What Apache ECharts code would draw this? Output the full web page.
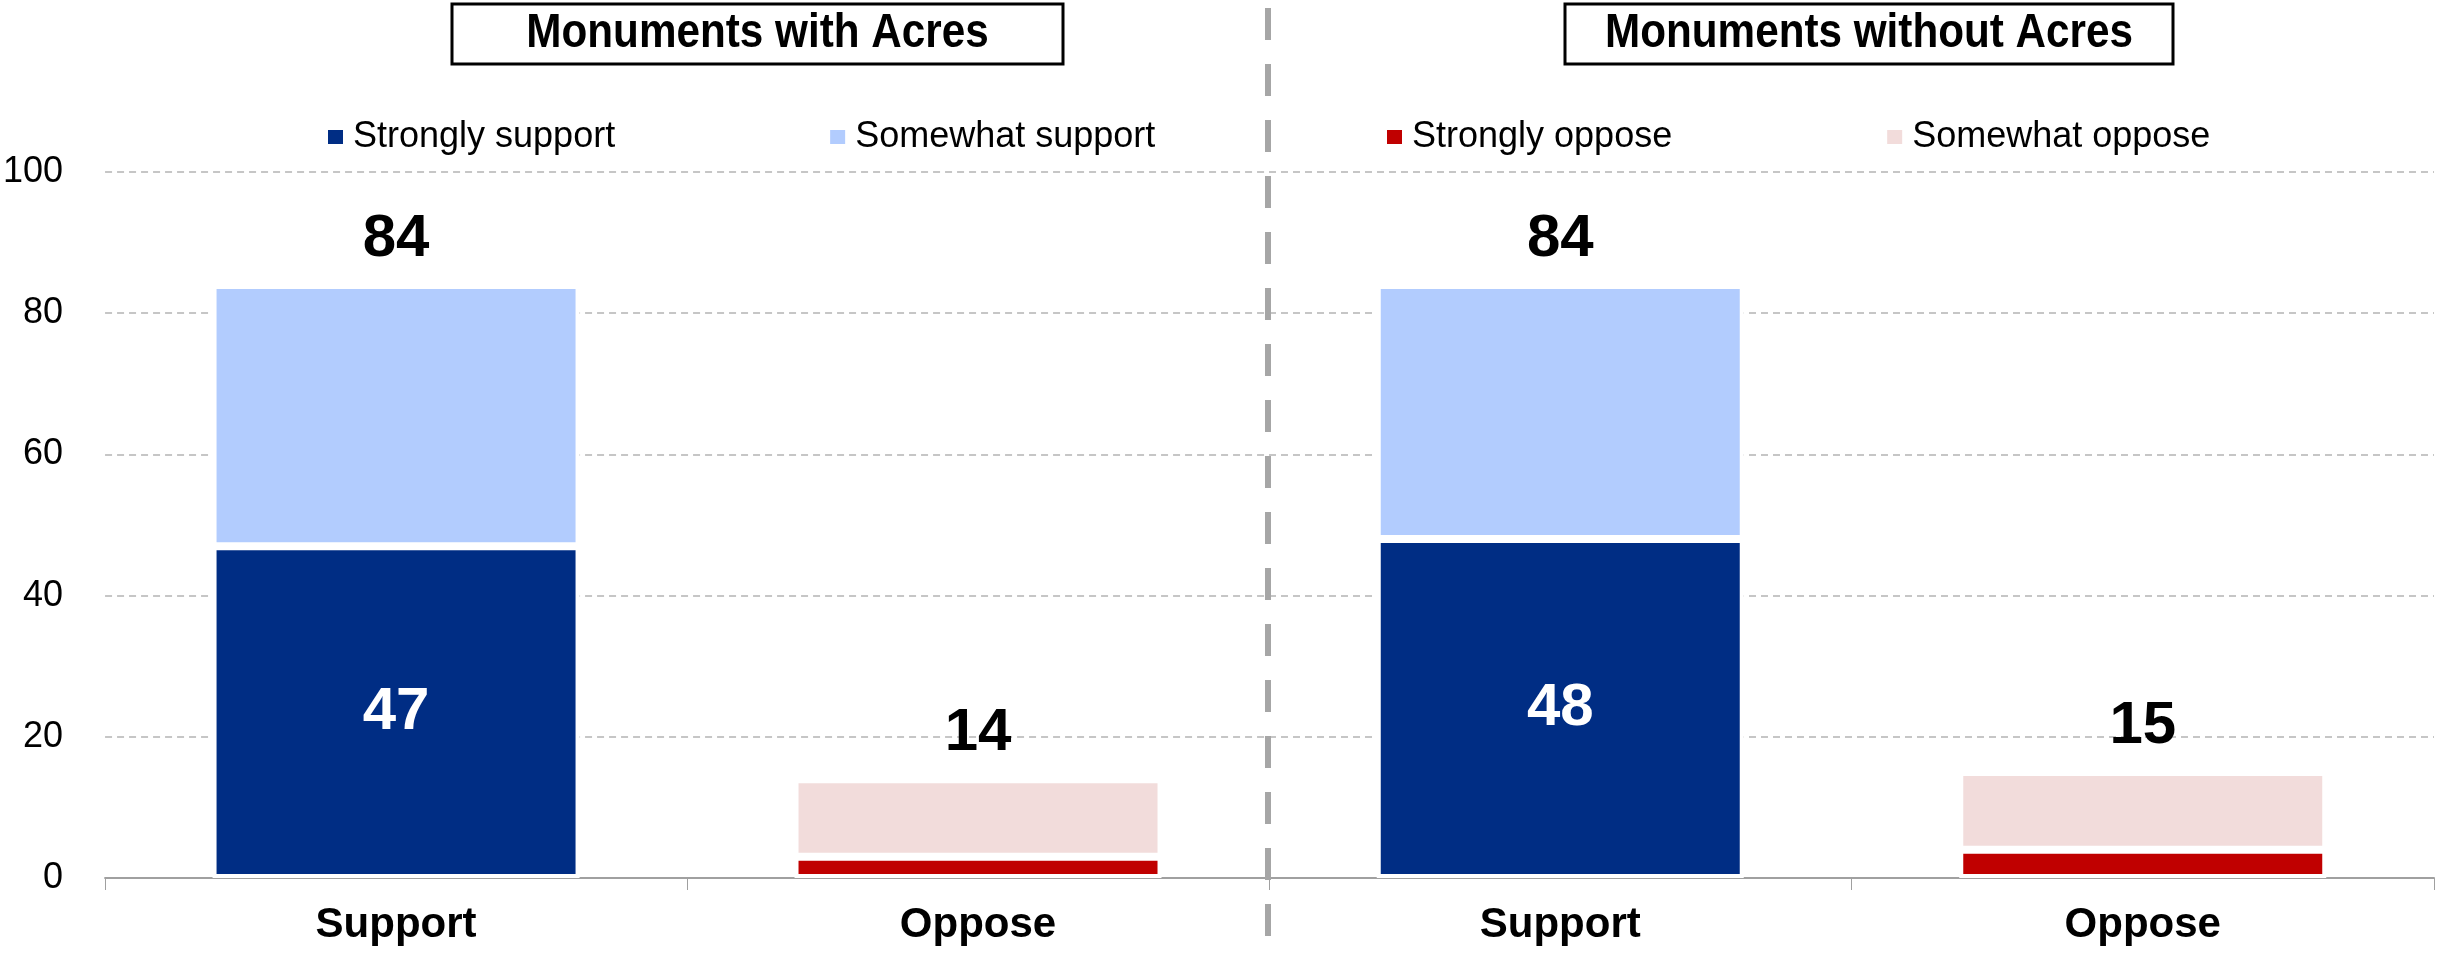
<!DOCTYPE html>
<html>
<head>
<meta charset="utf-8">
<script src="https://cdn.jsdelivr.net/npm/echarts@6/dist/echarts.min.js"></script>
<style>
  html, body { margin: 0; padding: 0; background: #fff; }
  #chart { width: 2443px; height: 954px; }
</style>
</head>
<body>
<div id="chart"></div>
<script>
// data
var categories = ['Support', 'Oppose']
var panels = ['Monuments with Acres', 'Monuments without Acres']
var stronglySupport = [47, 48]
var somewhatSupport = [37, 36]
var stronglyOppose = [3, 4]
var somewhatOppose = [11, 11]
var yTicks = [0, 20, 40, 60, 80, 100]

var colors = {
  strongSup: '#002D84',
  someSup: '#B2CCFE',
  strongOpp: '#C00000',
  someOpp: '#F2DCDB'
}
var font = 'Liberation Sans, Arial, sans-serif'

var gridLeft = [104, 1269]
var gridWidth = 1165

var grids = []
var xAxes = []
var yAxes = []
var series = []

panels.forEach(function(p, i) {
  grids.push({ left: gridLeft[i], width: gridWidth, top: 172, bottom: 76 })
  xAxes.push({
    gridIndex: i,
    type: 'category',
    data: categories,
    axisLine: { show: true, lineStyle: { color: '#A0A0A0', width: 2 }},
    axisTick: { show: true, length: 12, lineStyle: { color: '#A0A0A0', width: 1 }},
    axisLabel: { fontSize: 42, fontWeight: 'bold', color: '#000', fontFamily: font, margin: 26 }
  })
  yAxes.push({
    gridIndex: i,
    type: 'value',
    min: yTicks[0],
    max: yTicks[yTicks.length - 1],
    interval: 20,
    axisLine: { show: false },
    axisTick: { show: false },
    axisLabel: { show: i === 0, fontSize: 36, color: '#000', fontFamily: font, margin: 42 },
    splitLine: { lineStyle: { type: [7, 5], color: '#C6C6C6', width: 2 }}
  })

  var base = {
    type: 'bar',
    xAxisIndex: i,
    yAxisIndex: i,
    stack: 'st' + i,
    barWidth: 367
  }
  var topLabel = function(fn) {
    return {
      show: true,
      position: 'top',
      distance: 16,
      fontSize: 60,
      fontWeight: 'bold',
      color: '#000',
      fontFamily: font,
      formatter: fn
    }
  }
  series.push(Object.assign({}, base, {
    name: 'Strongly support',
    data: [stronglySupport[i], '-'],
    itemStyle: { color: colors.strongSup, borderColor: '#fff', borderWidth: 4 },
    label: { show: true, position: 'inside', fontSize: 60, fontWeight: 'bold', color: '#fff', fontFamily: font }
  }))
  series.push(Object.assign({}, base, {
    name: 'Somewhat support',
    data: [somewhatSupport[i], '-'],
    itemStyle: { color: colors.someSup, borderColor: '#fff', borderWidth: 4 },
    label: topLabel(function() { return stronglySupport[i] + somewhatSupport[i] })
  }))
  series.push(Object.assign({}, base, {
    name: 'Strongly oppose',
    data: ['-', stronglyOppose[i]],
    itemStyle: { color: colors.strongOpp, borderColor: '#fff', borderWidth: 4 }
  }))
  series.push(Object.assign({}, base, {
    name: 'Somewhat oppose',
    data: ['-', somewhatOppose[i]],
    itemStyle: { color: colors.someOpp, borderColor: '#fff', borderWidth: 4 },
    label: topLabel(function() { return stronglyOppose[i] + somewhatOppose[i] })
  }))
})

var legendBase = {
  top: 114,
  icon: 'rect',
  itemWidth: 15,
  itemHeight: 14,
  itemGap: 215,
  itemStyle: { borderWidth: 0 },
  textStyle: { fontSize: 36, color: '#000', fontFamily: font, padding: [0, 0, 0, 5] }
}

// title boxes and the dashed divider
var boxes = [
  { x: 452, w: 611 },
  { x: 1565, w: 608 }
]
var graphics = []
boxes.forEach(function(b, i) {
  graphics.push({
    type: 'rect',
    shape: { x: b.x, y: 4, width: b.w, height: 60 },
    style: { fill: '#fff', stroke: '#000', lineWidth: 3 },
    z: 10
  })
  graphics.push({
    type: 'text',
    x: b.x + b.w / 2,
    y: 34,
    scaleX: 0.88,
    style: {
      text: panels[i],
      fontSize: 48,
      fontWeight: 'bold',
      fontFamily: font,
      fill: '#000',
      align: 'center',
      verticalAlign: 'middle'
    },
    z: 11
  })
})
graphics.push({
  type: 'line',
  shape: { x1: 1268, y1: 8, x2: 1268, y2: 940 },
  style: { stroke: '#A6A6A6', lineWidth: 6, lineDash: [32, 24] },
  z: 5
})

var chart = echarts.init(document.getElementById('chart'))
chart.setOption({
  animation: false,
  textStyle: { fontFamily: font },
  grid: grids,
  xAxis: xAxes,
  yAxis: yAxes,
  legend: [
    Object.assign({}, legendBase, { left: 323, data: ['Strongly support', 'Somewhat support'] }),
    Object.assign({}, legendBase, { left: 1382, data: ['Strongly oppose', 'Somewhat oppose'] })
  ],
  graphic: graphics,
  series: series
})
</script>
</body>
</html>
